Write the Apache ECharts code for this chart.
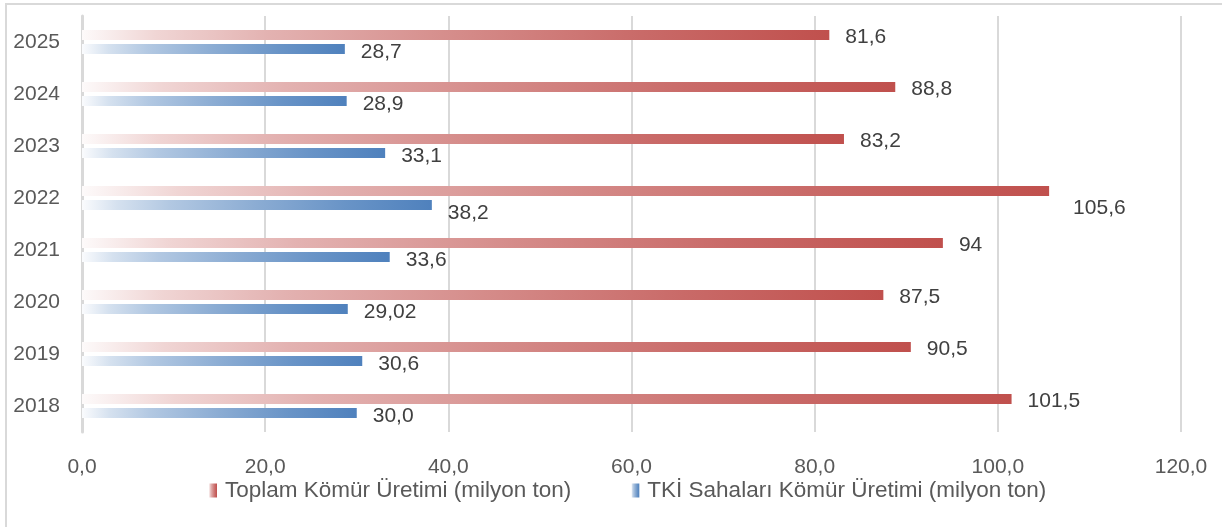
<!DOCTYPE html>
<html>
<head>
<meta charset="utf-8">
<script src="https://cdn.jsdelivr.net/npm/echarts@6/dist/echarts.min.js"></script>
<style>
  html, body { margin: 0; padding: 0; background: #fff; }
  #chart { width: 1222px; height: 527px; }
</style>
</head>
<body>
<div id="chart"></div>
<script>
// yıllar (üstten alta)
const years = ['2025', '2024', '2023', '2022', '2021', '2020', '2019', '2018']
const toplam = [81.6, 88.8, 83.2, 105.6, 94, 87.5, 90.5, 101.5]
const toplamText = ['81,6', '88,8', '83,2', '105,6', '94', '87,5', '90,5', '101,5']
const tki = [28.7, 28.9, 33.1, 38.2, 33.6, 29.02, 30.6, 30.0]
const tkiText = ['28,7', '28,9', '33,1', '38,2', '33,6', '29,02', '30,6', '30,0']
const xTicks = [0, 20, 40, 60, 80, 100, 120]
const seriesNames = ['Toplam Kömür Üretimi (milyon ton)', 'TKİ Sahaları Kömür Üretimi (milyon ton)']

const FONT = '"Liberation Sans", Arial, sans-serif'

function mix(hex, t) {
  const r = parseInt(hex.slice(1, 3), 16)
  const g = parseInt(hex.slice(3, 5), 16)
  const b = parseInt(hex.slice(5, 7), 16)
  const m = c => Math.round(255 - (255 - c) * t)
  return 'rgb(' + m(r) + ',' + m(g) + ',' + m(b) + ')'
}
function grad(hex) {
  return new echarts.graphic.LinearGradient(0, 0, 1, 0, [
    { offset: 0, color: mix(hex, 0.03) },
    { offset: 0.1, color: mix(hex, 0.24) },
    { offset: 0.25, color: mix(hex, 0.44) },
    { offset: 0.5, color: mix(hex, 0.66) },
    { offset: 0.75, color: mix(hex, 0.85) },
    { offset: 1, color: hex }
  ])
}

// Excel etiket konumları (bazı etiketler kaydırılmış)
function labelled(values, texts, base, special) {
  return values.map((v, i) => {
    const off = special[i] || base
    return { value: v, label: { offset: off, formatter: texts[i] } }
  })
}

const chart = echarts.init(document.getElementById('chart'))
chart.setOption({
  backgroundColor: '#fff',
  animation: false,
  graphic: [{
    type: 'rect',
    shape: { x: 6, y: 4, width: 1400, height: 700 },
    style: { fill: 'none', stroke: '#d9d9d9', lineWidth: 2 },
    silent: true
  }],
  grid: { left: 82, right: 41, top: 16, bottom: 95, containLabel: false },
  legend: {
    bottom: 20,
    left: 204,
    icon: 'rect',
    itemWidth: 8,
    itemHeight: 14,
    itemGap: 60,
    textStyle: { fontFamily: FONT, fontSize: 22.5, color: '#595959', padding: [0, 0, 0, 3] },
    data: seriesNames
  },
  xAxis: {
    type: 'value',
    min: 0,
    max: 120,
    interval: 20,
    axisLine: { show: false },
    axisTick: { show: false },
    splitLine: { show: true, lineStyle: { color: '#d9d9d9', width: 2 } },
    axisLabel: {
      margin: 25,
      fontFamily: FONT,
      fontSize: 21,
      color: '#595959',
      formatter: v => v.toFixed(1).replace('.', ',')
    }
  },
  yAxis: {
    type: 'category',
    inverse: true,
    data: years,
    axisLine: { show: true, lineStyle: { color: '#d9d9d9', width: 3 } },
    axisTick: { show: false },
    axisLabel: { margin: 22, fontFamily: FONT, fontSize: 21, color: '#595959' }
  },
  series: [{
    name: seriesNames[0],
    type: 'bar',
    barWidth: 10,
    barGap: '40%',
    itemStyle: { color: grad('#c0504d') },
    label: { show: true, position: 'right', distance: 16, fontFamily: FONT, fontSize: 21, color: '#404040' },
    data: labelled(toplam, toplamText, [0, 2], { 3: [8, 17] })
  }, {
    name: seriesNames[1],
    type: 'bar',
    barWidth: 10,
    itemStyle: { color: grad('#4f81bd') },
    label: { show: true, position: 'right', distance: 16, fontFamily: FONT, fontSize: 21, color: '#404040' },
    data: labelled(tki, tkiText, [0, 3], { 3: [0, 8] })
  }]
})
</script>
</body>
</html>
